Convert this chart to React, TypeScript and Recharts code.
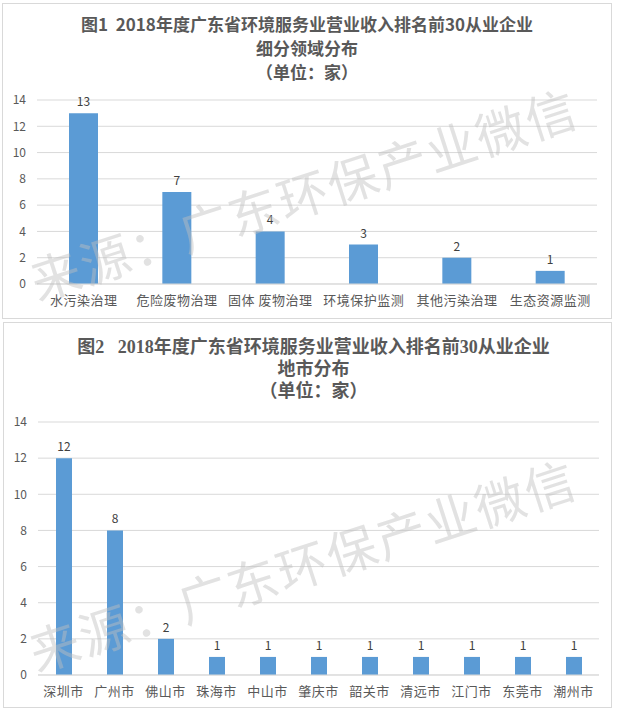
import React from 'react';
import { BarChart, Bar, XAxis, YAxis, CartesianGrid, LabelList } from 'recharts';

const fieldCategories = ['水污染治理', '危险废物治理', '固体 废物治理', '环境保护监测', '其他污染治理', '生态资源监测'];
const fieldCounts = [13, 7, 4, 3, 2, 1];
const cityCategories = ['深圳市', '广州市', '佛山市', '珠海市', '中山市', '肇庆市', '韶关市', '清远市', '江门市', '东莞市', '潮州市'];
const cityCounts = [12, 8, 2, 1, 1, 1, 1, 1, 1, 1, 1];
const yTicks = [0, 2, 4, 6, 8, 10, 12, 14];

const title1 = ['图1  2018年度广东省环境服务业营业收入排名前30从业企业', '细分领域分布', '（单位：家）'];
const title2 = ['图2   2018年度广东省环境服务业营业收入排名前30从业企业', '地市分布', '（单位：家）'];
const watermark = '来源：广东环保产业微信';

const fieldData = fieldCategories.map((name, i) => ({ name, value: fieldCounts[i] }));
const cityData = cityCategories.map((name, i) => ({ name, value: cityCounts[i] }));

const SANS = '"Noto Sans CJK SC", "Noto Sans", sans-serif';
const SERIF = '"Liberation Serif", "DejaVu Serif", "Noto Sans CJK SC", serif';
const BLUE = '#5B9BD5';
const GRID = '#d9d9d9';

const Watermark = ({ cx, cy }: { cx: number; cy: number }) => (
  <div
    style={{
      position: 'absolute',
      left: cx - 300,
      top: cy - 30,
      width: 600,
      height: 60,
      lineHeight: '60px',
      textAlign: 'center',
      fontFamily: SANS,
      fontSize: 50,
      color: 'rgba(190,190,190,0.45)',
      transform: 'rotate(-18deg)',
      pointerEvents: 'none',
      whiteSpace: 'nowrap',
      letterSpacing: 2,
    }}
  >
    {watermark}
  </div>
);

const Titles = ({ lines, tops, family, size, shift }: { lines: string[]; tops: number[]; family: string; size: number; shift: number }) => (
  <>
    {lines.map((t, i) => (
      <div
        key={i}
        style={{
          position: 'absolute',
          left: shift,
          width: '100%',
          top: tops[i] - 12,
          height: 24,
          lineHeight: '24px',
          textAlign: 'center',
          fontFamily: family,
          fontWeight: 'bold',
          fontSize: size,
          color: '#595959',
          whiteSpace: 'pre',
        }}
      >
        {t}
      </div>
    ))}
  </>
);

export default function App() {
  return (
    <div style={{ position: 'absolute', left: 0, top: 0, width: 617, height: 713, background: '#fff', overflow: 'hidden' }}>
      {/* Chart 1 */}
      <div
        style={{
          position: 'absolute',
          left: 2,
          top: 3,
          width: 610,
          height: 316,
          border: `1px solid ${GRID}`,
          boxSizing: 'border-box',
          overflow: 'hidden',
        }}
      >
        <Titles lines={title1} tops={[20, 44, 68]} family={SANS} size={17} shift={0} />
        <div style={{ position: 'absolute', left: 0, top: 0 }}>
          <BarChart width={608} height={314} data={fieldData} margin={{ top: 96, right: 14, bottom: 4, left: 0 }}>
            <CartesianGrid vertical={false} stroke={GRID} />
            <XAxis
              dataKey="name"
              height={30}
              axisLine={{ stroke: GRID }}
              tickLine={false}
              tickMargin={6}
              interval={0}
              tick={{ fill: '#595959', fontSize: 13, fontFamily: SANS, letterSpacing: 0.5 }}
            />
            <YAxis
              width={34}
              domain={[0, 14]}
              ticks={yTicks}
              axisLine={false}
              tickLine={false}
              tickMargin={5}
              tick={{ fill: '#595959', fontSize: 12, fontFamily: SANS }}
            />
            <Bar dataKey="value" fill={BLUE} barSize={29} isAnimationActive={false}>
              <LabelList dataKey="value" position="top" offset={7} fill="#404040" fontSize={12} fontFamily={SANS} />
            </Bar>
          </BarChart>
        </div>
        <Watermark cx={300} cy={188} />
      </div>

      {/* Chart 2 */}
      <div
        style={{
          position: 'absolute',
          left: 3,
          top: 322,
          width: 609,
          height: 386,
          border: `1px solid ${GRID}`,
          boxSizing: 'border-box',
          overflow: 'hidden',
        }}
      >
        <Titles lines={title2} tops={[24, 46, 68]} family={SERIF} size={18} shift={6} />
        <div style={{ position: 'absolute', left: 0, top: 0 }}>
          <BarChart width={607} height={384} data={cityData} margin={{ top: 99, right: 12, bottom: 2, left: 0 }}>
            <CartesianGrid vertical={false} stroke={GRID} />
            <XAxis
              dataKey="name"
              height={30}
              axisLine={{ stroke: GRID }}
              tickLine={false}
              tickMargin={6}
              interval={0}
              tick={{ fill: '#595959', fontSize: 13, fontFamily: SANS, letterSpacing: 0.5 }}
            />
            <YAxis
              width={34}
              domain={[0, 14]}
              ticks={yTicks}
              axisLine={false}
              tickLine={false}
              tickMargin={5}
              tick={{ fill: '#595959', fontSize: 12, fontFamily: SANS }}
            />
            <Bar dataKey="value" fill={BLUE} barSize={16} isAnimationActive={false}>
              <LabelList dataKey="value" position="top" offset={7} fill="#404040" fontSize={12} fontFamily={SANS} />
            </Bar>
          </BarChart>
        </div>
        <Watermark cx={298} cy={240} />
      </div>
    </div>
  );
}
